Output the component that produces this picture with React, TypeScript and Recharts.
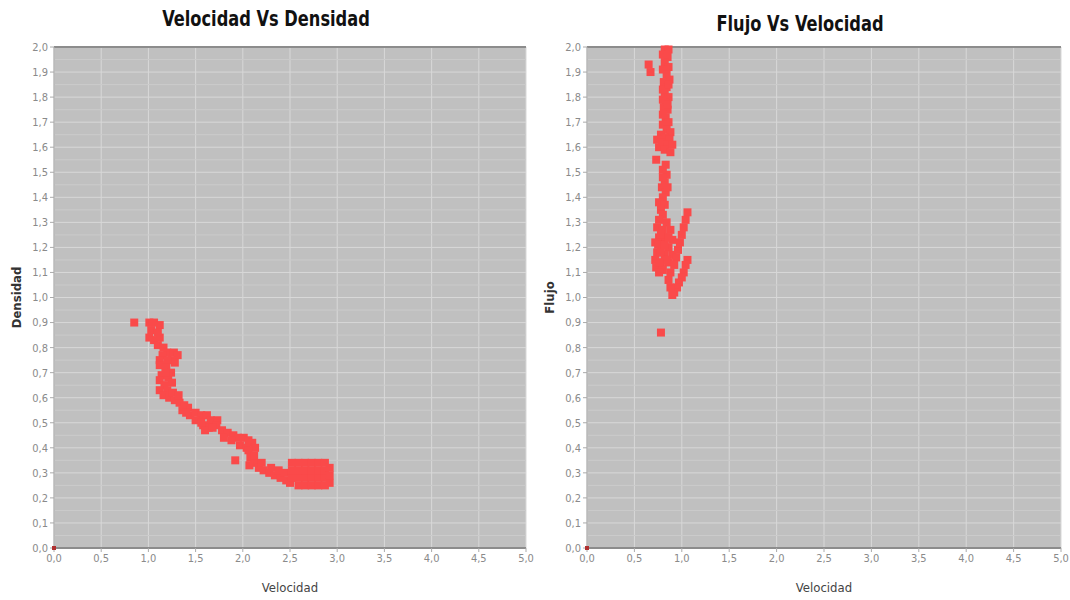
import React from "react";
import {
  ScatterChart,
  Scatter,
  XAxis,
  YAxis,
  ZAxis,
  CartesianGrid,
  ReferenceLine,
} from "recharts";

// ---- Data ----
const xTicks = [0, 0.5, 1, 1.5, 2, 2.5, 3, 3.5, 4, 4.5, 5];
const yTicks = [0, 0.1, 0.2, 0.3, 0.4, 0.5, 0.6, 0.7, 0.8, 0.9, 1, 1.1, 1.2, 1.3, 1.4, 1.5, 1.6, 1.7, 1.8, 1.9, 2];
const yMinor = [0.05, 0.15, 0.25, 0.35, 0.45, 0.55, 0.65, 0.75, 0.85, 0.95, 1.05, 1.15, 1.25, 1.35, 1.45, 1.55, 1.65, 1.75, 1.85, 1.95];

const origen = [{ x: 0, y: 0 }];

// Velocidad (x) vs Densidad (y)
const velocidadDensidad = [
  { x: 0.85, y: 0.9 },
  { x: 1.01, y: 0.9 }, { x: 1.06, y: 0.9 }, { x: 1.12, y: 0.89 }, { x: 1.03, y: 0.87 },
  { x: 1.1, y: 0.86 }, { x: 1.01, y: 0.84 }, { x: 1.06, y: 0.83 }, { x: 1.12, y: 0.84 },
  { x: 1.1, y: 0.81 }, { x: 1.16, y: 0.8 }, { x: 1.2, y: 0.78 }, { x: 1.27, y: 0.78 },
  { x: 1.31, y: 0.77 }, { x: 1.15, y: 0.77 }, { x: 1.25, y: 0.75 }, { x: 1.28, y: 0.74 },
  { x: 1.2, y: 0.75 }, { x: 1.12, y: 0.75 },
  { x: 1.12, y: 0.73 }, { x: 1.19, y: 0.72 }, { x: 1.24, y: 0.7 }, { x: 1.14, y: 0.69 },
  { x: 1.21, y: 0.68 }, { x: 1.12, y: 0.67 }, { x: 1.25, y: 0.66 }, { x: 1.17, y: 0.65 },
  { x: 1.12, y: 0.63 }, { x: 1.18, y: 0.7 }, { x: 1.2, y: 0.63 },
  { x: 1.16, y: 0.61 }, { x: 1.22, y: 0.6 }, { x: 1.28, y: 0.59 }, { x: 1.33, y: 0.58 },
  { x: 1.38, y: 0.57 }, { x: 1.42, y: 0.56 }, { x: 1.36, y: 0.55 }, { x: 1.44, y: 0.53 },
  { x: 1.26, y: 0.62 }, { x: 1.32, y: 0.61 }, { x: 1.4, y: 0.54 },
  { x: 1.5, y: 0.54 }, { x: 1.56, y: 0.53 }, { x: 1.62, y: 0.53 }, { x: 1.66, y: 0.51 },
  { x: 1.73, y: 0.51 }, { x: 1.58, y: 0.49 }, { x: 1.64, y: 0.48 }, { x: 1.6, y: 0.47 },
  { x: 1.72, y: 0.49 }, { x: 1.5, y: 0.51 }, { x: 1.56, y: 0.5 }, { x: 1.68, y: 0.48 },
  { x: 1.78, y: 0.47 }, { x: 1.84, y: 0.46 }, { x: 1.9, y: 0.45 }, { x: 1.95, y: 0.44 },
  { x: 2.01, y: 0.44 }, { x: 2.06, y: 0.43 }, { x: 2.1, y: 0.42 }, { x: 2.13, y: 0.4 },
  { x: 1.97, y: 0.41 }, { x: 2.04, y: 0.4 }, { x: 1.8, y: 0.44 }, { x: 1.88, y: 0.43 },
  { x: 1.92, y: 0.35 },
  { x: 2.06, y: 0.39 }, { x: 2.08, y: 0.36 }, { x: 2.12, y: 0.34 }, { x: 2.07, y: 0.33 },
  { x: 2.17, y: 0.32 }, { x: 2.22, y: 0.31 }, { x: 2.28, y: 0.3 }, { x: 2.34, y: 0.29 },
  { x: 2.4, y: 0.28 }, { x: 2.46, y: 0.27 }, { x: 2.5, y: 0.26 }, { x: 2.12, y: 0.37 },
  { x: 2.2, y: 0.34 }, { x: 2.3, y: 0.32 }, { x: 2.38, y: 0.31 }, { x: 2.44, y: 0.3 },
  { x: 2.52, y: 0.28 }, { x: 2.52, y: 0.31 }, { x: 2.52, y: 0.34 },
  { x: 2.59, y: 0.25 }, { x: 2.59, y: 0.28 }, { x: 2.59, y: 0.31 }, { x: 2.59, y: 0.34 },
  { x: 2.66, y: 0.25 }, { x: 2.66, y: 0.28 }, { x: 2.66, y: 0.31 }, { x: 2.66, y: 0.34 },
  { x: 2.73, y: 0.25 }, { x: 2.73, y: 0.28 }, { x: 2.73, y: 0.31 }, { x: 2.73, y: 0.34 },
  { x: 2.8, y: 0.25 }, { x: 2.8, y: 0.28 }, { x: 2.8, y: 0.31 }, { x: 2.8, y: 0.34 },
  { x: 2.87, y: 0.25 }, { x: 2.87, y: 0.28 }, { x: 2.87, y: 0.31 }, { x: 2.87, y: 0.34 },
  { x: 2.92, y: 0.26 }, { x: 2.92, y: 0.29 }, { x: 2.92, y: 0.32 },
];

// Velocidad (x) vs Flujo (y)
const velocidadFlujo = [
  { x: 0.65, y: 1.93 }, { x: 0.67, y: 1.9 },
  { x: 0.82, y: 1.99 }, { x: 0.86, y: 1.99 }, { x: 0.8, y: 1.97 }, { x: 0.85, y: 1.96 },
  { x: 0.82, y: 1.94 }, { x: 0.86, y: 1.92 }, { x: 0.8, y: 1.91 }, { x: 0.84, y: 1.89 },
  { x: 0.87, y: 1.87 }, { x: 0.81, y: 1.86 }, { x: 0.84, y: 1.84 }, { x: 0.82, y: 1.81 },
  { x: 0.86, y: 1.8 }, { x: 0.83, y: 1.78 }, { x: 0.81, y: 1.76 }, { x: 0.85, y: 1.75 },
  { x: 0.83, y: 1.72 }, { x: 0.86, y: 1.7 }, { x: 0.8, y: 1.83 }, { x: 0.8, y: 1.79 },
  { x: 0.86, y: 1.85 }, { x: 0.85, y: 1.77 }, { x: 0.8, y: 1.73 },
  { x: 0.8, y: 1.69 }, { x: 0.84, y: 1.67 }, { x: 0.88, y: 1.66 }, { x: 0.78, y: 1.65 },
  { x: 0.82, y: 1.64 }, { x: 0.87, y: 1.63 }, { x: 0.74, y: 1.63 }, { x: 0.79, y: 1.62 },
  { x: 0.85, y: 1.61 }, { x: 0.9, y: 1.61 }, { x: 0.76, y: 1.6 }, { x: 0.82, y: 1.59 },
  { x: 0.88, y: 1.58 },
  { x: 0.73, y: 1.55 },
  { x: 0.83, y: 1.53 }, { x: 0.8, y: 1.51 }, { x: 0.84, y: 1.49 }, { x: 0.82, y: 1.46 },
  { x: 0.79, y: 1.44 }, { x: 0.83, y: 1.42 }, { x: 0.8, y: 1.4 }, { x: 0.76, y: 1.38 },
  { x: 0.82, y: 1.37 }, { x: 0.78, y: 1.35 }, { x: 0.8, y: 1.48 }, { x: 0.85, y: 1.44 },
  { x: 0.8, y: 1.33 }, { x: 0.76, y: 1.31 }, { x: 0.84, y: 1.3 }, { x: 0.74, y: 1.28 },
  { x: 0.8, y: 1.27 }, { x: 0.88, y: 1.27 }, { x: 0.76, y: 1.24 }, { x: 0.83, y: 1.24 },
  { x: 0.9, y: 1.23 }, { x: 0.72, y: 1.22 }, { x: 0.79, y: 1.21 }, { x: 0.86, y: 1.2 },
  { x: 0.74, y: 1.18 }, { x: 0.82, y: 1.17 }, { x: 0.9, y: 1.17 }, { x: 0.72, y: 1.15 },
  { x: 0.78, y: 1.14 }, { x: 0.86, y: 1.14 }, { x: 0.73, y: 1.12 }, { x: 0.8, y: 1.11 },
  { x: 0.76, y: 1.1 }, { x: 0.78, y: 1.18 }, { x: 0.75, y: 1.21 }, { x: 0.82, y: 1.21 },
  { x: 0.78, y: 1.25 }, { x: 0.86, y: 1.24 }, { x: 0.84, y: 1.15 }, { x: 0.76, y: 1.14 },
  { x: 1.06, y: 1.34 }, { x: 1.04, y: 1.31 }, { x: 1.02, y: 1.28 }, { x: 1.0, y: 1.25 },
  { x: 0.98, y: 1.22 }, { x: 0.96, y: 1.19 }, { x: 0.94, y: 1.16 }, { x: 0.92, y: 1.13 },
  { x: 1.06, y: 1.15 }, { x: 1.04, y: 1.13 }, { x: 1.02, y: 1.1 }, { x: 1.0, y: 1.08 },
  { x: 0.97, y: 1.06 }, { x: 0.95, y: 1.04 }, { x: 0.92, y: 1.02 }, { x: 0.88, y: 1.04 },
  { x: 0.9, y: 1.01 }, { x: 0.86, y: 1.07 }, { x: 0.88, y: 1.1 },
  { x: 0.78, y: 0.86 },
];

const RED = "#fa4a4a";
const fmt = (v: number) => v.toFixed(1).replace(".", ",");
const tickStyle = { fill: "#8a8a8a", fontSize: 11, fontFamily: "'DejaVu Sans Condensed', 'DejaVu Sans', sans-serif" };

const OriginDot = (props: any) => (
  <rect x={props.cx - 2} y={props.cy - 2} width={4} height={4} fill="#b03030" />
);

function Panel({
  data,
  yLabel,
  marginLeft,
}: {
  data: { x: number; y: number }[];
  yLabel: string;
  marginLeft: number;
}) {
  return (
    <ScatterChart
      width={540}
      height={600}
      margin={{ top: 47, right: 14, bottom: 6, left: marginLeft }}
    >
      <CartesianGrid
        fill="#c0c0c0"
        fillOpacity={1}
        stroke="#d8d8d8"
        strokeWidth={1}
      />
      {yMinor.map((v) => (
        <ReferenceLine key={v} y={v} stroke="#cbcbcb" strokeWidth={1} ifOverflow="hidden" />
      ))}
      <ReferenceLine y={2} stroke="#8c8c8c" strokeWidth={2} />
      <XAxis
        type="number"
        dataKey="x"
        domain={[0, 5]}
        ticks={xTicks}
        tickFormatter={fmt}
        tick={tickStyle}
        tickSize={4}
        axisLine={{ stroke: "#8c8c8c", strokeWidth: 2 }}
        tickLine={{ stroke: "#aaa" }}
        height={46}
        label={{
          value: "Velocidad",
          position: "insideBottom",
          offset: 2,
          style: { fill: "#444", fontSize: 13, fontFamily: "'DejaVu Sans Condensed', sans-serif" },
        }}
      />
      <YAxis
        type="number"
        dataKey="y"
        domain={[0, 2]}
        ticks={yTicks}
        tickFormatter={fmt}
        tick={tickStyle}
        tickSize={4}
        interval={0}
        axisLine={{ stroke: "#aaaaaa" }}
        tickLine={{ stroke: "#aaa" }}
        width={34}
        label={{
          value: yLabel,
          angle: -90,
          position: "insideLeft",
          offset: -4,
          style: {
            fill: "#333",
            fontSize: 13,
            fontWeight: "bold",
            fontFamily: "'DejaVu Sans Condensed', sans-serif",
            textAnchor: "middle",
          },
        }}
      />
      <ZAxis range={[64, 64]} />
      <Scatter data={data} fill={RED} shape="square" isAnimationActive={false} />
      <Scatter data={origen} fill="#b03030" shape={OriginDot} isAnimationActive={false} />
    </ScatterChart>
  );
}

const titleStyle: React.CSSProperties = {
  position: "absolute",
  top: 6,
  fontFamily: "'DejaVu Sans Condensed', sans-serif",
  fontWeight: "bold",
  fontSize: 22,
  color: "#111",
  textAlign: "center",
  width: 400,
  whiteSpace: "nowrap",
  transform: "scaleX(0.82)",
  transformOrigin: "center",
};

export default function App() {
  return (
    <div
      style={{
        position: "absolute",
        left: 0,
        top: 0,
        width: 1070,
        height: 600,
        background: "#fff",
        overflow: "hidden",
      }}
    >
      <div style={{ ...titleStyle, left: 66 }}>Velocidad Vs Densidad</div>
      <div style={{ ...titleStyle, left: 600, top: 11 }}>Flujo Vs Velocidad</div>
      <div style={{ position: "absolute", left: 0, top: 0 }}>
        <Panel data={velocidadDensidad} yLabel="Densidad" marginLeft={20} />
      </div>
      <div style={{ position: "absolute", left: 535, top: 0 }}>
        <Panel data={velocidadFlujo} yLabel="Flujo" marginLeft={18} />
      </div>
    </div>
  );
}
